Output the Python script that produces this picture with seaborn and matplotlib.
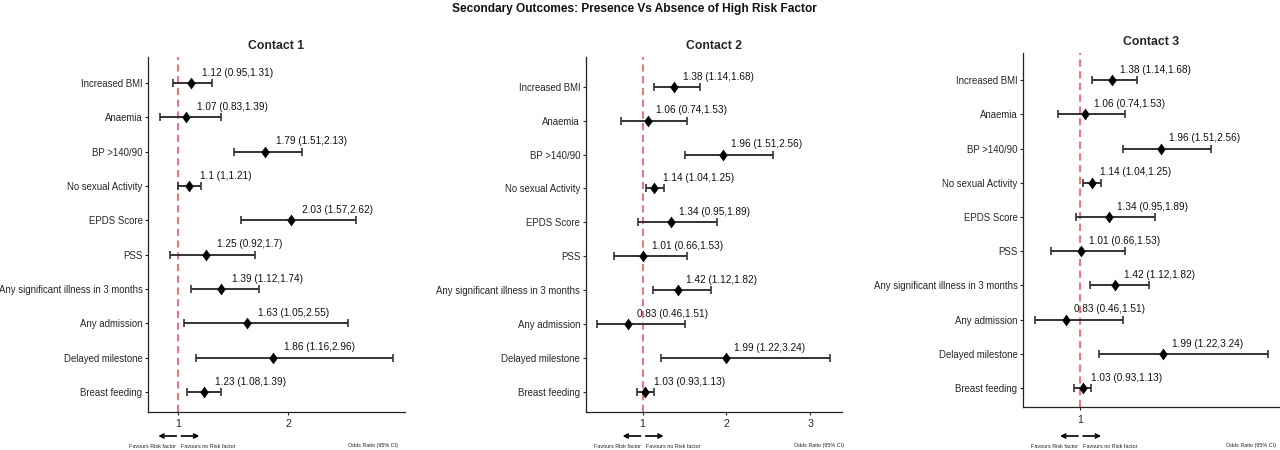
import numpy as np
import pandas as pd
import seaborn as sns
import matplotlib
matplotlib.use("Agg")
import matplotlib.pyplot as plt
from matplotlib.path import Path

# data
factors = ["Increased BMI", "Anaemia", "BP >140/90", "No sexual Activity",
           "EPDS Score", "PSS", "Any significant illness in 3 months",
           "Any admission", "Delayed milestone", "Breast feeding"]

c1_or = [1.12, 1.07, 1.79, 1.1, 2.03, 1.25, 1.39, 1.63, 1.86, 1.23]
c1_lo = [0.95, 0.83, 1.51, 1, 1.57, 0.92, 1.12, 1.05, 1.16, 1.08]
c1_hi = [1.31, 1.39, 2.13, 1.21, 2.62, 1.7, 1.74, 2.55, 2.96, 1.39]

c2_or = [1.38, 1.06, 1.96, 1.14, 1.34, 1.01, 1.42, 0.83, 1.99, 1.03]
c2_lo = [1.14, 0.74, 1.51, 1.04, 0.95, 0.66, 1.12, 0.46, 1.22, 0.93]
c2_hi = [1.68, 1.53, 2.56, 1.25, 1.89, 1.53, 1.82, 1.51, 3.24, 1.13]

c3_or = [1.38, 1.06, 1.96, 1.14, 1.34, 1.01, 1.42, 0.83, 1.99, 1.03]
c3_lo = [1.14, 0.74, 1.51, 1.04, 0.95, 0.66, 1.12, 0.46, 1.22, 0.93]
c3_hi = [1.68, 1.53, 2.56, 1.25, 1.89, 1.53, 1.82, 1.51, 3.24, 1.13]

panel_titles = ["Contact 1", "Contact 2", "Contact 3"]
panel_xticks = [[1, 2], [1, 2, 3], [1]]

sns.set_style("ticks")
plt.rcParams['font.family'] = ['Liberation Sans', 'DejaVu Sans']

W, H = 1280, 450
fig = plt.figure(figsize=(12.8, 4.5), dpi=100)

# axes boxes in pixels: left, right, top, bottom ; row ylim (top, bottom)
boxes = [(148, 405, 57, 411.7), (585.7, 842, 57, 411.7), (1023, 1280, 53, 407.3)]
ylims = [(-0.757, 9.574), (-0.876, 9.58), (-0.79, 9.56)]
or_x = [0.875, 0.91, 0.985]
or_ha = ['center', 'center', 'right']

diamond = Path([(0, 1), (0.72, 0), (0, -1), (-0.72, 0), (0, 1)],
               [Path.MOVETO, Path.LINETO, Path.LINETO, Path.LINETO, Path.CLOSEPOLY])

panels = [(c1_or, c1_lo, c1_hi), (c2_or, c2_lo, c2_hi), (c3_or, c3_lo, c3_hi)]

for i, (est, lo, hi) in enumerate(panels):
    l, r, t, b = boxes[i]
    ax = fig.add_axes([l / W, 1 - b / H, (r - l) / W, (b - t) / H])
    df = pd.DataFrame({"factor": factors, "or": est, "lo": lo, "hi": hi,
                       "row": np.arange(len(factors))})

    ax.axvline(1, color='#EE6670', lw=1.3, dashes=(4, 2.5), zorder=1)
    ax.errorbar(df["or"], df["row"],
                xerr=[df["or"] - df["lo"], df["hi"] - df["or"]],
                fmt='none', ecolor='#333333', elinewidth=1.4, capsize=2.9,
                capthick=1.2, zorder=2)
    sns.scatterplot(data=df, x="or", y="row", marker=diamond, s=72,
                    color='black', edgecolor='black', linewidth=0, ax=ax,
                    zorder=3, legend=False)
    for _, rw in df.iterrows():
        ax.text(rw["or"] + 0.1, rw["row"] - 0.3,
                f"{rw['or']:g} ({rw['lo']:g},{rw['hi']:g})",
                ha='left', va='center', fontsize=7.2, color='#111111')

    xmin, xmax = min(lo), max(hi)
    pad = 0.05 * (xmax - xmin)
    ax.set_xlim(xmin - pad, xmax + pad)
    ax.set_ylim(ylims[i][1], ylims[i][0])
    ax.set_yticks(df["row"])
    ax.set_yticklabels(factors)
    ax.set_xticks(panel_xticks[i])
    ax.set_xlabel("")
    ax.set_ylabel("")
    ax.tick_params(axis='both', labelsize=6.9, colors='#262626', length=2.5,
                   width=0.8, pad=1.5)
    ax.tick_params(axis='x', labelsize=7.6, pad=3)
    sns.despine(ax=ax)
    for s in ["left", "bottom"]:
        ax.spines[s].set_color('#222222')
        ax.spines[s].set_linewidth(0.9)
    ax.set_title(panel_titles[i], fontsize=8.8, fontweight='bold', pad=6)

    # arrows and notes under the axis
    ppu = (r - l) / (ax.get_xlim()[1] - ax.get_xlim()[0])
    ya = (b - 436) / (b - t)
    yt = (b - 446) / (b - t)
    tr = ax.get_xaxis_transform()
    ax.annotate('', xy=(1 - 20 / ppu, ya), xytext=(1 - 2 / ppu, ya),
                xycoords=tr, textcoords=tr, annotation_clip=False,
                arrowprops=dict(arrowstyle='->', lw=1.2, color='black',
                                shrinkA=0, shrinkB=0, mutation_scale=7))
    ax.annotate('', xy=(1 + 21 / ppu, ya), xytext=(1 + 3 / ppu, ya),
                xycoords=tr, textcoords=tr, annotation_clip=False,
                arrowprops=dict(arrowstyle='->', lw=1.2, color='black',
                                shrinkA=0, shrinkB=0, mutation_scale=7))
    ax.text(1 - 2 / ppu, yt, "Favours Risk factor", transform=tr,
            ha='right', va='center', fontsize=3.9, color='#222222')
    ax.text(1 + 3 / ppu, yt, "Favours no Risk factor", transform=tr,
            ha='left', va='center', fontsize=3.9, color='#222222')
    ax.text(or_x[i], yt, "Odds Ratio (95% CI)", transform=ax.transAxes,
            ha=or_ha[i], va='center', fontsize=3.9, color='#222222')

fig.text(634 / W, 1 - 9 / H, "Secondary Outcomes: Presence Vs Absence of High Risk Factor",
         ha='center', va='center', fontsize=8.6, fontweight='bold', color='#111111')

fig.savefig("out.png", dpi=100)
